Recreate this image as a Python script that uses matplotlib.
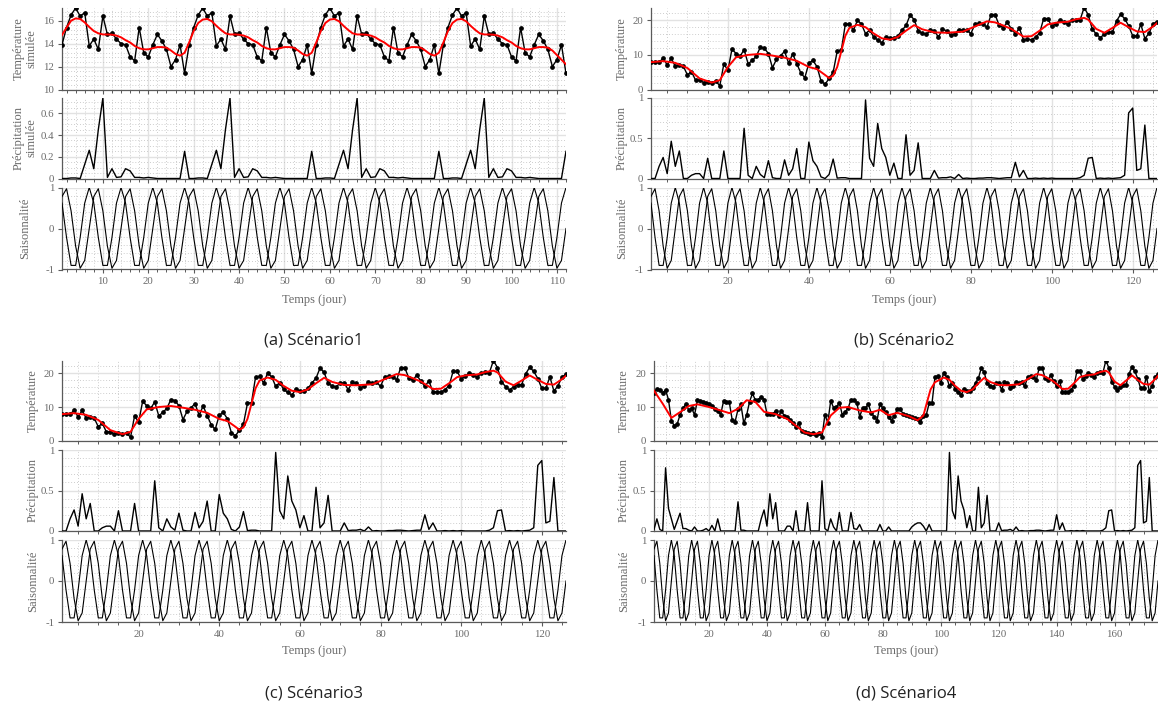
import numpy as np
import matplotlib
matplotlib.use("Agg")
import matplotlib.pyplot as plt
from matplotlib.ticker import MultipleLocator, FormatStrFormatter

plt.rcParams['axes.unicode_minus'] = False

# ---------------- data ----------------
# Scenario 1 : one 28-day pattern, repeated 4 times (112 days)
temp1_period = [13.9, 15.4, 16.5, 17.1, 16.4, 16.7, 13.8, 14.4, 13.5, 16.4, 14.8, 14.9, 14.4, 14.0,
                13.9, 12.85, 12.5, 15.4, 13.2, 12.85, 13.9, 14.8, 14.25, 13.5, 12.0, 12.6, 13.9, 11.4]
precip1_period = [0, 0, 0.005, 0.005, 0.0, 0.13, 0.26, 0.09, 0.45, 0.74, 0.01, 0.09, 0.01, 0.015,
                  0.09, 0.07, 0.01, 0.01, 0.005, 0.01, 0.005, 0, 0, 0, 0, 0, 0, 0.25]
smooth1 = [14.75, 15.4, 16.0, 16.2, 16.15, 15.85, 15.45, 15.1, 14.9, 14.8, 14.8, 14.78, 14.7, 14.55,
           14.3, 14.1, 13.8, 13.6, 13.5, 13.5, 13.6, 13.7, 13.7, 13.65, 13.4, 13.1, 12.95, 13.2,
           14.1, 15.1, 15.8, 16.1, 16.15, 15.95, 15.55, 15.2, 14.9, 14.8, 14.8, 14.78, 14.7, 14.55,
           14.3, 14.1, 13.8, 13.6, 13.5, 13.5, 13.6, 13.7, 13.7, 13.65, 13.4, 13.1, 12.95, 13.2,
           14.1, 15.1, 15.8, 16.1, 16.15, 15.95, 15.55, 15.2, 14.9, 14.8, 14.8, 14.78, 14.7, 14.55,
           14.3, 14.1, 13.8, 13.6, 13.5, 13.5, 13.6, 13.7, 13.7, 13.65, 13.4, 13.1, 12.95, 13.2,
           14.1, 15.1, 15.8, 16.1, 16.15, 15.95, 15.55, 15.2, 14.9, 14.8, 14.8, 14.78, 14.7, 14.55,
           14.3, 14.1, 13.8, 13.6, 13.5, 13.5, 13.6, 13.7, 13.7, 13.65, 13.4, 13.0, 12.6, 12.2]

# weekly seasonality (one 7-day period)
season_sin_period = [0.78, 0.97, 0.43, -0.43, -0.97, -0.78, 0.0]
season_cos_period = [0.62, -0.22, -0.90, -0.90, -0.22, 0.62, 1.0]

# Scenario 2 (= Scenario 3), 126 days
temp2 = [7.9, 7.9, 7.9, 9.0, 7.1, 9.0, 6.7, 7.2, 6.7, 4.2, 5.2, 2.7, 2.7, 2.0, 2.3, 2.0, 2.4, 1.1, 7.4, 5.5,
         11.7, 10.4, 9.6, 11.5, 7.4, 8.4, 9.6, 12.2, 11.9, 10.4, 6.3, 8.7, 9.8, 11.0, 7.6, 10.3, 7.5, 4.8, 3.4, 7.6,
         8.4, 6.6, 2.5, 1.5, 3.2, 5.0, 11.1, 11.3, 18.8, 19.0, 17.1, 20.0, 18.9, 16.1, 17.2, 15.2, 14.3, 13.5, 15.2, 14.8,
         14.8, 15.5, 17.1, 18.5, 21.5, 20.2, 17.0, 16.2, 15.9, 17.1, 17.0, 15.1, 17.4, 17.0, 15.7, 16.1, 17.3, 17.1, 17.3, 16.1,
         18.8, 19.1, 18.9, 18.0, 21.6, 21.6, 18.6, 17.9, 19.4, 17.6, 16.1, 17.7, 14.4, 14.5, 14.4, 15.1, 16.3, 20.5, 20.5, 18.3,
         19.0, 20.0, 19.5, 18.8, 20.0, 20.2, 20.1, 23.7, 21.6, 17.5, 16.0, 15.0, 16.0, 16.6, 16.6, 19.8, 21.7, 20.5, 18.4, 15.5,
         15.5, 18.9, 14.7, 16.2, 18.9, 19.6]
precip2 = [0, 0, 0.15, 0.26, 0.06, 0.46, 0.15, 0.34, 0, 0, 0.04, 0.06, 0.06, 0, 0.25, 0, 0, 0, 0.34, 0,
           0, 0, 0, 0.62, 0.04, 0, 0.15, 0.05, 0.01, 0.22, 0.01, 0, 0, 0.23, 0.04, 0.12, 0.37, 0, 0, 0.45,
           0.22, 0.15, 0.02, 0, 0.05, 0.24, 0.005, 0.01, 0.01, 0, 0, 0, 0, 0.97, 0.25, 0.15, 0.68, 0.37, 0.26, 0.04,
           0.19, 0, 0, 0.54, 0.04, 0.1, 0.44, 0, 0, 0, 0.1, 0.005, 0.01, 0.01, 0.02, 0, 0.05, 0, 0.005, 0,
           0, 0.005, 0.005, 0.01, 0.01, 0.005, 0, 0.005, 0.01, 0.01, 0.2, 0.02, 0.1, 0, 0, 0.005, 0, 0.005, 0, 0.005,
           0, 0, 0, 0, 0, 0, 0.01, 0.04, 0.25, 0.26, 0, 0.005, 0, 0.005, 0, 0.005, 0.01, 0.04, 0.81, 0.87,
           0.1, 0.12, 0.66, 0, 0, 0]
smooth2_days = [1, 4, 7, 10, 13, 16, 18, 20, 22, 25, 28, 31, 34, 37, 40, 42, 44, 45, 46, 47, 48, 49, 50, 52,
                54, 56, 58, 60, 62, 64, 66, 68, 71, 74, 78, 81, 84, 86, 88, 90, 93, 95, 97, 99, 101, 104, 106,
                108, 109, 111, 113, 115, 117, 119, 121, 123, 125, 126]
smooth2_vals = [7.9, 8.2, 7.7, 6.2, 3.2, 2.0, 2.7, 6.5, 9.3, 10.0, 10.3, 9.8, 9.2, 8.3, 6.5, 5.9, 4.2, 3.3, 4.0,
                6.5, 11.0, 15.5, 17.8, 18.7, 18.0, 16.2, 14.8, 14.4, 15.2, 17.0, 18.6, 17.4, 16.5, 16.4, 16.7,
                18.2, 19.7, 19.4, 18.5, 17.5, 15.3, 15.4, 17.0, 18.8, 19.3, 19.6, 20.3, 20.7, 20.2, 17.5, 16.4,
                17.8, 19.3, 18.0, 16.8, 16.6, 18.2, 19.2]

# Scenario 4, 175 days: own first part, then the Scenario 2 sequence (shifted by 49 days)
temp4_head = [14.0, 15.4, 15.1, 14.2, 15.0, 12.2, 6.0, 4.5, 5.0, 7.7, 9.6, 10.9, 9.1, 9.6, 7.7, 12.0, 11.8, 11.6,
              11.3, 10.9, 10.3, 9.3, 8.9, 7.7, 11.7, 11.4, 11.4, 6.2, 5.7, 9.3, 10.8, 5.2, 7.7, 11.6, 14.0, 12.0,
              12.2, 13.0, 12.2, 8.0, 8.0, 8.0, 8.8, 7.4, 8.8, 7.4, 7.2, 6.2, 5.4, 4.1, 5.2, 2.8, 2.7, 2.3, 2.1,
              2.3, 1.8, 2.5, 1.2, 7.7, 5.4, 11.8, 9.8, 9.9, 11.3, 7.7, 8.6, 9.6, 12.2, 12.0, 11.3, 7.2, 9.6, 9.6,
              10.9, 8.2, 7.2, 6.0, 10.8, 9.7, 8.5, 7.0, 6.0, 7.5, 9.3, 9.5, 7.9, 7.6, 7.4, 7.0, 6.7, 6.5, 5.6,
              7.4, 7.7]
precip4_head = [0.02, 0.15, 0.02, 0.0, 0.78, 0.28, 0.15, 0.02, 0.12, 0.22, 0.03, 0.03, 0.01, 0.0, 0.05, 0, 0,
                0.01, 0.03, 0.0, 0.07, 0.0, 0.15, 0, 0, 0, 0, 0, 0, 0.36, 0.01, 0.01, 0, 0, 0, 0, 0.0, 0.15,
                0.26, 0.06, 0.46, 0.15, 0.35, 0, 0, 0.0, 0.06, 0.06, 0.0, 0.25, 0, 0, 0, 0.35, 0, 0, 0, 0,
                0.62, 0.03, 0.0, 0.15, 0.05, 0.0, 0.23, 0.0, 0, 0, 0.23, 0.03, 0.02, 0.08, 0, 0, 0, 0, 0, 0,
                0.08, 0, 0.0, 0.05, 0, 0, 0, 0, 0, 0, 0, 0.05, 0.08, 0.1, 0.1, 0.06, 0.0, 0.08, 0.0, 0, 0]
smooth4_head_days = [1, 4, 7, 10, 13, 16, 20, 24, 27, 30, 33, 36, 39, 43, 47, 50, 53, 56, 59, 62, 65, 68, 72,
                     76, 79, 82, 85, 89, 92, 94, 95.6, 96.5, 98, 100, 101]
smooth4_head_vals = [14.8, 11.0, 6.8, 8.5, 10.3, 10.8, 10.0, 9.0, 8.2, 9.5, 12.0, 11.5, 8.6, 7.9, 6.5, 4.5,
                     2.5, 2.0, 2.5, 7.5, 9.8, 10.0, 9.0, 8.4, 9.2, 7.6, 8.3, 7.3, 6.1, 7.5, 12.5, 15.2, 17.3,
                     18.2, 18.7]
temp4 = temp4_head + temp2[46:]
precip4 = precip4_head + precip2[50:]
smooth4_days = smooth4_head_days + [d + 49 for d in smooth2_days if d >= 54]
smooth4_vals = smooth4_head_vals + [v for d, v in zip(smooth2_days, smooth2_vals) if d >= 54]

# ---------------- figure ----------------
W, H = 1158, 706
fig = plt.figure(figsize=(W / 100, H / 100), dpi=100)

AX_COL = '#5a5a5a'
LBL_COL = '#6a6a6a'
SERIF = ['Liberation Serif', 'DejaVu Serif']


def add_ax(x0, x1, yt, yb):
    return fig.add_axes([x0 / W, 1 - yb / H, (x1 - x0) / W, (yb - yt) / H])


def style(ax, n, xmaj, xmin, ylim, yticks, ymin, show_x):
    ax.set_xlim(1, n)
    ax.set_ylim(*ylim)
    ax.xaxis.set_major_locator(MultipleLocator(xmaj))
    ax.xaxis.set_minor_locator(MultipleLocator(xmin))
    ax.set_yticks(yticks)
    ax.yaxis.set_major_formatter(FormatStrFormatter('%g'))
    ax.yaxis.set_minor_locator(MultipleLocator(ymin))
    ax.grid(which='major', color='#e2e2e2', lw=1.0)
    ax.grid(which='minor', color='#bdbdbd', lw=0.6, ls=(0, (1, 2.5)))
    ax.set_axisbelow(True)
    for s in ['top', 'right']:
        ax.spines[s].set_visible(False)
    for s in ['left', 'bottom']:
        ax.spines[s].set_color(AX_COL)
        ax.spines[s].set_linewidth(0.9)
    ax.tick_params(which='both', direction='out', color=AX_COL, labelcolor=LBL_COL, labelsize=7.8)
    ax.tick_params(which='major', length=3, width=0.8, pad=2.5)
    ax.tick_params(axis='x', which='minor', length=2, width=0.7)
    ax.tick_params(axis='y', which='minor', length=0)
    for lab in ax.get_xticklabels() + ax.get_yticklabels():
        lab.set_family(SERIF)
    if not show_x:
        ax.tick_params(labelbottom=False)


def ylabel(x, y, text):
    fig.text(x / W, 1 - y / H, text, rotation=90, ha='center', va='center', fontsize=9,
             color=LBL_COL, family=SERIF, linespacing=1.1)


def panel(x0, x1, rows, n, xmaj, xmin, temp, tlim, tticks, tmin, sm_d, sm_v,
          prec, plim, pticks, pmin, labels, lab_x, xlab_y, cap_y, caption):
    days = np.arange(1, n + 1)
    (t0, t1), (p0, p1), (s0, s1) = rows
    axT = add_ax(x0, x1, t0, t1)
    axT.plot(days, temp, color='black', lw=1.0, marker='o', ms=2.4, zorder=3)
    axT.plot(sm_d, sm_v, color='#ff0000', lw=1.4, zorder=4)
    style(axT, n, xmaj, xmin, tlim, tticks, tmin, False)

    axP = add_ax(x0, x1, p0, p1)
    axP.plot(days, prec, color='black', lw=1.0, zorder=3)
    style(axP, n, xmaj, xmin, plim, pticks, pmin, False)

    axS = add_ax(x0, x1, s0, s1)
    reps = n // 7
    axS.plot(days, np.tile(season_sin_period, reps), color='black', lw=0.8, zorder=3)
    axS.plot(days, np.tile(season_cos_period, reps), color='black', lw=0.8, zorder=3)
    style(axS, n, xmaj, xmin, (-1, 1), [-1, 0, 1], 0.2, True)

    ylabel(lab_x, (t0 + t1) / 2, labels[0])
    ylabel(lab_x, (p0 + p1) / 2, labels[1])
    ylabel(lab_x, (s0 + s1) / 2, labels[2])
    fig.text((x0 + x1) / 2 / W, 1 - xlab_y / H, 'Temps (jour)', ha='center', va='center',
             fontsize=9, color=LBL_COL, family=SERIF)
    fig.text((x0 + x1) / 2 / W, 1 - cap_y / H, caption, ha='center', va='center',
             fontsize=12, color='#222222', family=['Open Sans', 'DejaVu Sans'])


rows_top = ((7.5, 89.5), (97.5, 178.5), (187.5, 269.5))
rows_bot = ((360.5, 441), (450, 531), (540, 622))

n1 = 112
temp1 = list(np.tile(temp1_period, 4))
precip1 = list(np.tile(precip1_period, 4))

panel(62, 566, rows_top, n1, 10, 2, temp1, (10, 17.15), [10, 12, 14, 16], 0.4,
      np.arange(1, n1 + 1), smooth1, precip1, (0, 0.745), [0, 0.2, 0.4, 0.6], 0.05,
      ['Température\nsimulée', 'Précipitation\nsimulée', 'Saisonnalité'], 25, 300, 341,
      '(a) Scénario1')

panel(651, 1157, rows_top, 126, 20, 5, temp2, (0, 23.7), [0, 10, 20], 2,
      smooth2_days, smooth2_vals, precip2, (0, 1), [0, 0.5, 1], 0.1,
      ['Température', 'Précipitation', 'Saisonnalité'], 622, 300, 341, '(b) Scénario2')

panel(62, 566, rows_bot, 126, 20, 5, temp2, (0, 23.7), [0, 10, 20], 2,
      smooth2_days, smooth2_vals, precip2, (0, 1), [0, 0.5, 1], 0.1,
      ['Température', 'Précipitation', 'Saisonnalité'], 33, 651, 694, '(c) Scénario3')

panel(654, 1158, rows_bot, 175, 20, 5, temp4, (0, 23.7), [0, 10, 20], 2,
      smooth4_days, smooth4_vals, precip4, (0, 1), [0, 0.5, 1], 0.1,
      ['Température', 'Précipitation', 'Saisonnalité'], 624, 651, 694, '(d) Scénario4')

fig.savefig('out.png', dpi=100)
